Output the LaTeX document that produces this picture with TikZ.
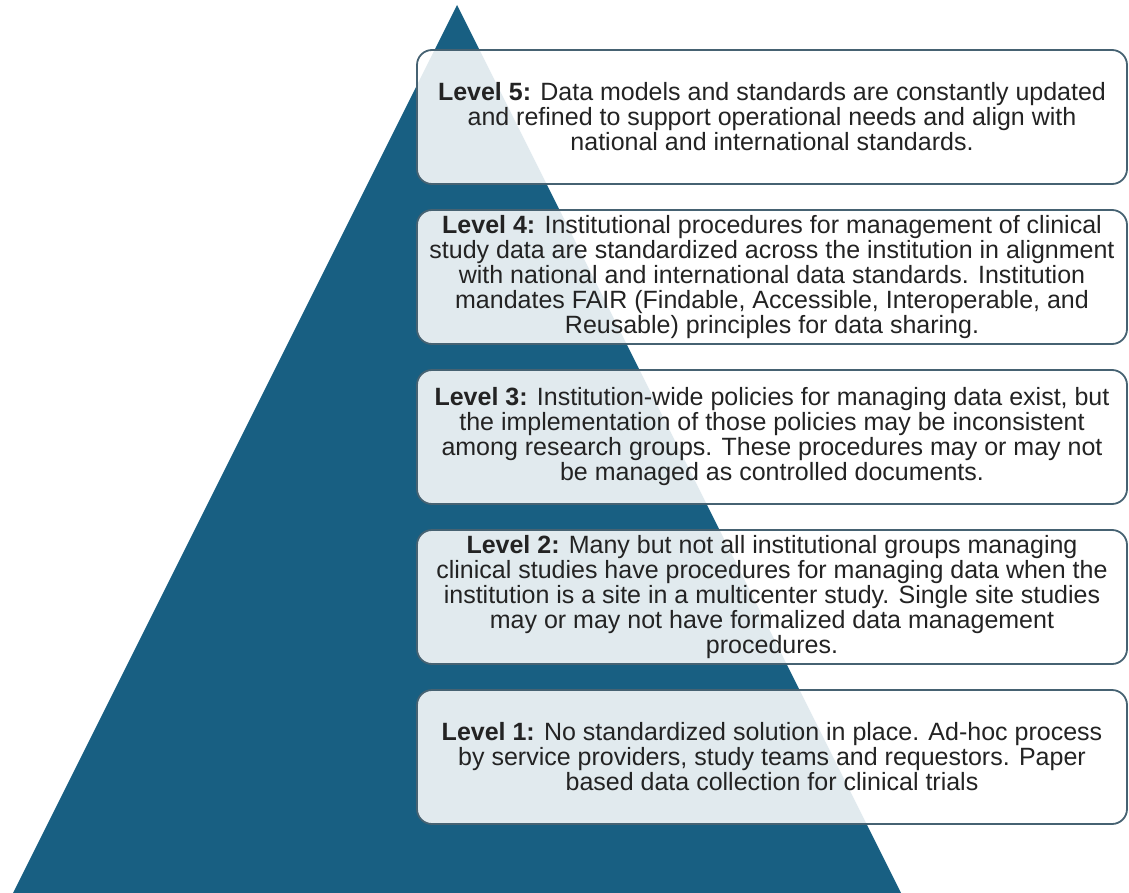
\documentclass[tikz,border=0pt]{standalone}
\usepackage{fontspec}
\setmainfont{Liberation Sans}
\definecolor{pyramid}{RGB}{24,95,130}
\definecolor{boxline}{RGB}{70,98,114}
\definecolor{txt}{RGB}{35,35,35}

\begin{document}
\begin{tikzpicture}
  [x=1pt,y=-1pt,
   levelbox/.style={draw=boxline,line width=1.8pt,rounded corners=15pt,
     fill=white,fill opacity=.87,text opacity=1,text=txt,
     minimum width=710pt,minimum height=134pt,align=center,
     font=\fontsize{25}{25}\selectfont}]
  \useasboundingbox (0,0) rectangle (1129,893);

  % pyramid
  \fill[pyramid] (457,5) -- (13,893) -- (901,893) -- cycle;

  \node[levelbox] (l5) at (772,117)
    {\textbf{Level 5:} Data models and standards are constantly updated\\
     and refined to support operational needs and align with\\
     national and international standards.};
  \node[levelbox] (l4) at (772,277)
    {\textbf{Level 4:} Institutional procedures for management of clinical\\
     study data are standardized across the institution in alignment\\
     with national and international data standards. Institution\\
     mandates FAIR (Findable, Accessible, Interoperable, and\\
     Reusable) principles for data sharing.};
  \node[levelbox] (l3) at (772,437)
    {\textbf{Level 3:} Institution-wide policies for managing data exist, but\\
     the implementation of those policies may be inconsistent\\
     among research groups. These procedures may or may not\\
     be managed as controlled documents.};
  \node[levelbox] (l2) at (772,597)
    {\textbf{Level 2:} Many but not all institutional groups managing\\
     clinical studies have procedures for managing data when the\\
     institution is a site in a multicenter study. Single site studies\\
     may or may not have formalized data management\\
     procedures.};
  \node[levelbox] (l1) at (772,757)
    {\textbf{Level 1:} No standardized solution in place. Ad-hoc process\\
     by service providers, study teams and requestors. Paper\\
     based data collection for clinical trials};

\end{tikzpicture}
\end{document}
